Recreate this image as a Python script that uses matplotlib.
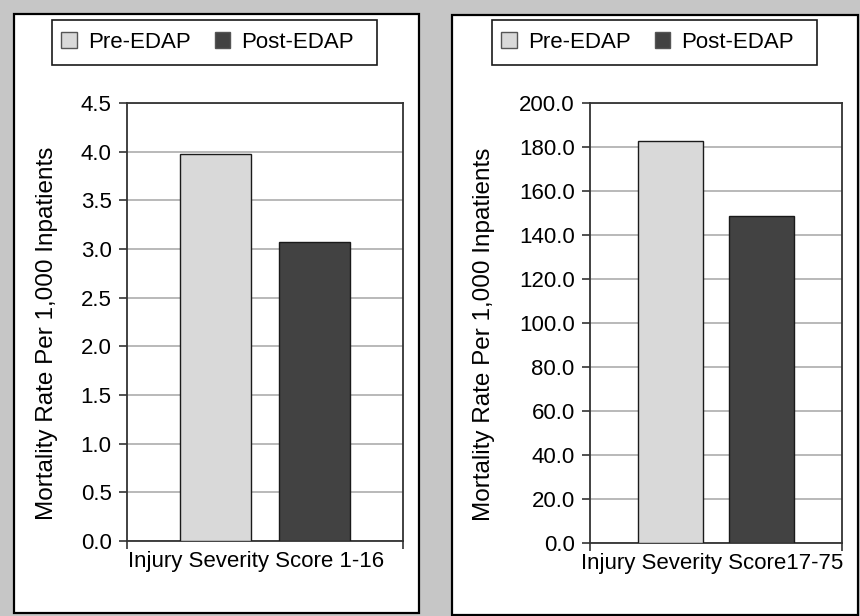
import matplotlib.pyplot as plt
from matplotlib.patches import Rectangle

plt.rcParams['font.family'] = ['Liberation Sans', 'DejaVu Sans']

series = ['Pre-EDAP', 'Post-EDAP']
colors = ['#d9d9d9', '#424242']

# mortality per 1,000 inpatients, by injury severity group
iss_low_label = 'Injury Severity Score 1-16'
iss_low_vals = [3.98, 3.07]
iss_low_ticks = [0.0, 0.5, 1.0, 1.5, 2.0, 2.5, 3.0, 3.5, 4.0, 4.5]

iss_high_label = 'Injury Severity Score17-75'
iss_high_vals = [182.5, 148.8]
iss_high_ticks = [0.0, 20.0, 40.0, 60.0, 80.0, 100.0, 120.0, 140.0, 160.0, 180.0, 200.0]

ylabel = 'Mortality Rate Per 1,000 Inpatients'

W, H = 860, 616
fig = plt.figure(figsize=(W / 100, H / 100), dpi=100)
fig.patch.set_facecolor('#c6c6c6')


def px_box(x0, y0, x1, y1):
    # pixel box (top-left origin) -> figure fraction [l, b, w, h]
    return [x0 / W, 1 - y1 / H, (x1 - x0) / W, (y1 - y0) / H]


def add_frame(box, lw, ec, z):
    l, b, w, h = px_box(*box)
    fig.patches.append(Rectangle((l, b), w, h, transform=fig.transFigure,
                                 facecolor='white', edgecolor=ec,
                                 linewidth=lw, zorder=z))


def panel(frame, ax_box, leg_box, vals, ticks, cat_label, cat_x, label_x):
    add_frame(frame, 1.6, 'black', -5)
    add_frame(leg_box, 1.2, '#1a1a1a', -4)

    ax = fig.add_axes(px_box(*ax_box))
    ax.set_facecolor('white')
    ax.patch.set_alpha(0)

    xs = [0.32, 0.68]
    bars = ax.bar(xs, vals, width=0.257, color=colors,
                  edgecolor='#1a1a1a', linewidth=1.0, zorder=3)

    ax.set_xlim(0, 1)
    ax.set_ylim(ticks[0], ticks[-1])
    ax.set_yticks(ticks)
    ax.set_yticklabels(['%.1f' % t for t in ticks], fontsize=16)
    ax.yaxis.grid(True, color='#a6a6a6', linewidth=1.1, zorder=0)
    ax.set_axisbelow(True)

    # end ticks on the category axis, label in the middle
    ax.set_xticks([0, 1])
    ax.set_xticklabels(['', ''])
    ax.set_xticks([cat_x], minor=True)
    ax.set_xticklabels([cat_label], minor=True, fontsize=16)
    ax.tick_params(axis='x', which='minor', length=0, pad=7)
    ax.tick_params(axis='x', which='major', length=6, width=1.2, color='#333333')
    ax.tick_params(axis='y', length=6, width=1.2, color='#333333', pad=5)

    for s in ax.spines.values():
        s.set_color('#333333')
        s.set_linewidth(1.3)

    ax.set_ylabel(ylabel, fontsize=17.5)
    ax.yaxis.set_label_coords(label_x, 0.475)

    # legend entries sit inside the drawn frame, flush with its left padding
    x0, y0, x1, y1 = leg_box
    leg = ax.legend(bars, series, loc='center left', ncol=2,
                    bbox_to_anchor=((x0 + 9) / W, 1 - (y0 + y1) / 2 / H),
                    bbox_transform=fig.transFigure, fontsize=16,
                    frameon=False, handlelength=0.7, handleheight=0.7,
                    handletextpad=0.5, columnspacing=1.1,
                    borderpad=0, borderaxespad=0)
    for p in leg.get_patches():
        p.set_edgecolor('#555555')
    return ax


panel((14, 14, 419, 613), (127, 103, 403, 541), (52, 20, 377, 65),
      iss_low_vals, iss_low_ticks, iss_low_label, 0.466, -0.25)
panel((452, 15, 858, 615), (590, 103, 842, 543), (492, 20, 817, 65),
      iss_high_vals, iss_high_ticks, iss_high_label, 0.484, -0.377)

fig.savefig('out.png', dpi=100, facecolor=fig.get_facecolor())
